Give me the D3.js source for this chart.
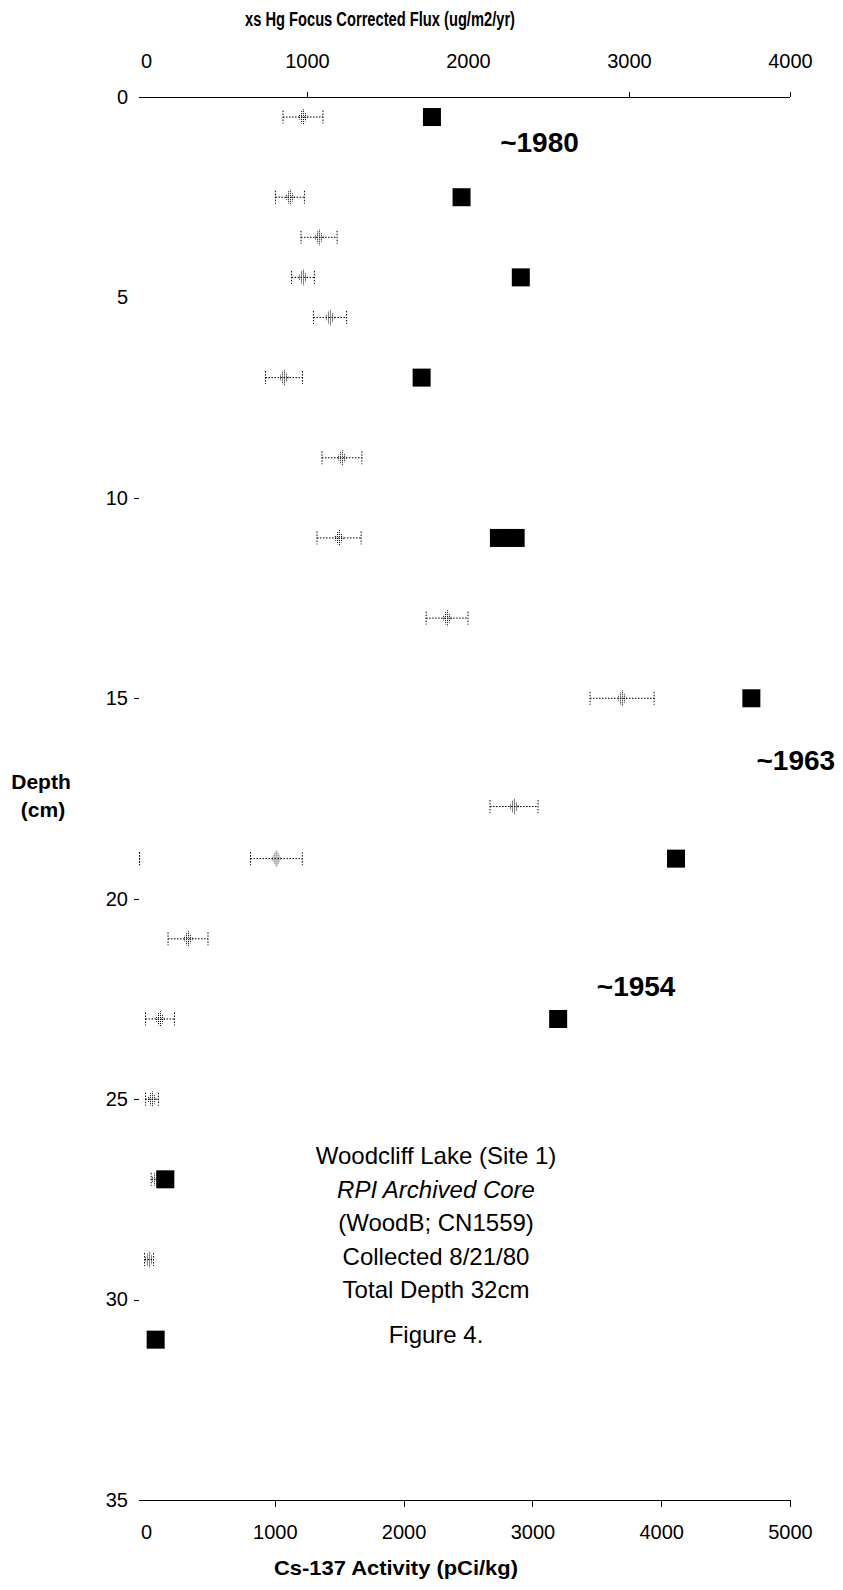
<!DOCTYPE html>
<html>
<head>
<meta charset="utf-8">
<script src="https://cdn.jsdelivr.net/npm/d3@7"></script>
<style>
  body { margin: 0; background: #fff; }
  svg { font-family: "Liberation Sans", Arial, sans-serif; }
</style>
</head>
<body>
<svg id="viz"></svg>
<script>
/* Data */

// Cs-137 activity (pCi/kg) by depth (cm)
const csDepth    = [0.5, 2.5, 4.5, 7, 11, 11, 15, 19, 23, 27, 31];
const csActivity = [2220, 2450, 2910, 2140, 2740, 2870, 4700, 4115, 3200, 150, 75];

// xs Hg focus corrected flux (ug/m2/yr) with error
const hgDepth = [0.5, 2.5, 3.5, 4.5, 5.5, 7, 9, 11, 13, 15, 17.7, 19, 19, 21, 23, 25, 27, 29];
const hgFlux  = [975, 894, 1075, 975, 1143, 857, 1217, 1199, 1870, 2957, 2286, 810, -40, 261, 87, 37, 62, 19];
const hgErr   = [124, 90, 112, 71, 103, 115, 124, 137, 130, 199, 149, 161, 0, 124, 90, 40, 30, 28];

const depthTicks = [0, 5, 10, 15, 20, 25, 30, 35];
const hgTicks    = [0, 1000, 2000, 3000, 4000];
const csTicks    = [0, 1000, 2000, 3000, 4000, 5000];

const dateLabels = ["~1980", "~1963", "~1954"];
const noteLines  = ["Woodcliff Lake (Site 1)", "RPI Archived Core", "(WoodB; CN1559)",
                    "Collected 8/21/80", "Total Depth 32cm"];
const figureLabel = "Figure 4.";

/* Environment */

const width = 843;
const height = 1590;
const plotLeft = 139;

const svg = d3.select("#viz")
    .attr("width", width)
    .attr("height", height);

// dithered fill for the Hg markers
svg.append("defs").append("pattern")
    .attr("id", "dots")
    .attr("width", 2).attr("height", 2)
    .attr("patternUnits", "userSpaceOnUse")
  .append("rect")
    .attr("width", 1).attr("height", 1)
    .attr("fill", "#000");

/* Scales */

const depth = d3.scaleLinear().domain([0, 35]).range([97, 1500]);
const hgX = d3.scaleLinear().domain([0, 4000]).range([146, 790]);
const csX = d3.scaleLinear().domain([0, 5000]).range([146, 790]);

/* Axes */

const gTop = svg.append("g")
    .attr("transform", `translate(0,${depth(0)})`)
    .call(d3.axisTop(hgX).tickValues(hgTicks).tickSize(5).tickPadding(24).tickFormat(d3.format("d")));

const gBottom = svg.append("g")
    .attr("transform", `translate(0,${depth(35)})`)
    .call(d3.axisBottom(csX).tickValues(csTicks).tickSize(7).tickPadding(18).tickFormat(d3.format("d")));

const gLeft = svg.append("g")
    .attr("transform", `translate(${plotLeft},0)`)
    .call(d3.axisLeft(depth).tickValues(depthTicks).tickSize(5).tickPadding(6));

[gTop, gBottom, gLeft].forEach(g => {
  g.select(".domain").remove();
  g.selectAll("text").attr("font-size", 20).attr("font-family", null).attr("fill", "#000");
  g.selectAll(".tick line").attr("stroke", "#000").attr("shape-rendering", "crispEdges");
});

gTop.selectAll(".tick line").filter(d => d === 0 || d === 2000).remove();
gBottom.selectAll(".tick line").filter(d => d === 0).remove();
gLeft.selectAll(".tick line").filter(d => d === 0 || d === 5 || d === 35).remove();

// top and bottom axis lines start at the depth axis
[0, 35].forEach(d => {
  svg.append("line")
      .attr("x1", plotLeft).attr("x2", csX(5000))
      .attr("y1", depth(d)).attr("y2", depth(d))
      .attr("stroke", "#000")
      .attr("shape-rendering", "crispEdges");
});

/* Axis titles */

svg.append("text")
    .attr("x", 380).attr("y", 26)
    .attr("text-anchor", "middle")
    .attr("font-weight", "bold").attr("font-size", 21)
    .attr("textLength", 270).attr("lengthAdjust", "spacingAndGlyphs")
    .text("xs Hg Focus Corrected Flux (ug/m2/yr)");

svg.append("text")
    .attr("x", 396).attr("y", 1575)
    .attr("text-anchor", "middle")
    .attr("font-weight", "bold").attr("font-size", 21)
    .attr("textLength", 244).attr("lengthAdjust", "spacingAndGlyphs")
    .text("Cs-137 Activity (pCi/kg)");

const depthTitle = svg.append("text")
    .attr("text-anchor", "middle")
    .attr("font-weight", "bold").attr("font-size", 21);
depthTitle.append("tspan").attr("x", 41).attr("y", 789).text("Depth");
depthTitle.append("tspan").attr("x", 43).attr("y", 817).text("(cm)");

/* Hg error bars and markers */

const gHg = svg.append("g")
    .attr("stroke", "#000")
    .attr("fill", "none");

hgDepth.forEach((dp, i) => {
  const y = depth(dp);
  const x0 = hgX(hgFlux[i] - hgErr[i]);
  const x1 = hgX(hgFlux[i] + hgErr[i]);
  const g = gHg.append("g");

  g.append("line")
      .attr("x1", x0).attr("x2", x1).attr("y1", y).attr("y2", y)
      .attr("stroke-dasharray", "1.5,1.5");

  [x0, x1].forEach(x => {
    g.append("line")
        .attr("x1", x).attr("x2", x).attr("y1", y - 6.5).attr("y2", y + 6.5)
        .attr("stroke-dasharray", "1.5,1.5");
  });

  if (hgFlux[i] >= 0) {
    const x = hgX(hgFlux[i]);
    g.append("path")
        .attr("d", d3.symbol(d3.symbolDiamond, 90)())
        .attr("transform", `translate(${x},${y})`)
        .attr("stroke", "none")
        .attr("fill", "url(#dots)");
  }
});

/* Cs-137 squares */

const sq = 18;
svg.append("g")
    .selectAll("rect")
    .data(csDepth.map((d, i) => ({depth: d, value: csActivity[i]})))
    .join("rect")
    .attr("x", d => csX(d.value) - sq / 2)
    .attr("y", d => depth(d.depth) - sq / 2)
    .attr("width", sq)
    .attr("height", sq)
    .attr("fill", "#000");

/* Date annotations */

const datePos = [[2750, 1.37], [4740, 16.78], [3500, 22.42]];
svg.append("g")
    .selectAll("text")
    .data(dateLabels)
    .join("text")
    .attr("x", (d, i) => csX(datePos[i][0]))
    .attr("y", (d, i) => depth(datePos[i][1]))
    .attr("font-weight", "bold")
    .attr("font-size", 28)
    .text(d => d);

/* Core notes */

const notes = svg.append("g")
    .attr("text-anchor", "middle")
    .attr("font-size", 24);

noteLines.forEach((t, i) => {
  notes.append("text")
      .attr("x", 436)
      .attr("y", 1164 + i * 33.5)
      .attr("font-style", i === 1 ? "italic" : null)
      .text(t);
});

notes.append("text")
    .attr("x", 436)
    .attr("y", 1343)
    .text(figureLabel);
</script>
</body>
</html>
